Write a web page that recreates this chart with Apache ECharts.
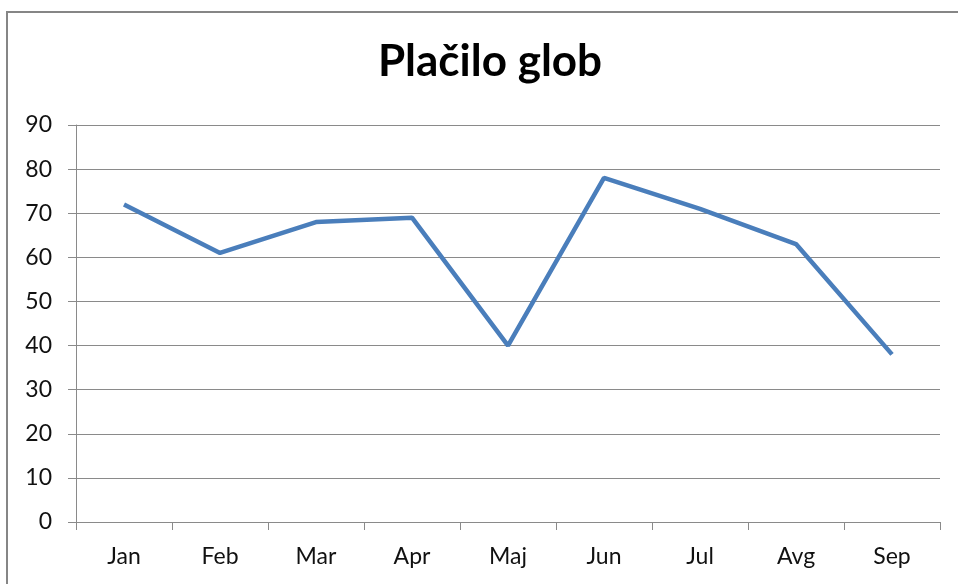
<!DOCTYPE html>
<html>
<head>
<meta charset="utf-8">
<script src="https://cdn.jsdelivr.net/npm/echarts@6/dist/echarts.min.js"></script>
<style>html,body{margin:0;padding:0;background:#fff}#c{width:958px;height:584px}</style>
</head>
<body>
<div id="c"></div>
<script>
var titleText = 'Plačilo glob';
var categories = ['Jan', 'Feb', 'Mar', 'Apr', 'Maj', 'Jun', 'Jul', 'Avg', 'Sep'];
var values = [72, 61, 68, 69, 40, 78, 71, 63, 38];
var yMin = 0, yMax = 90, yStep = 10;

var chart = echarts.init(document.getElementById('c'), null, {renderer: 'canvas'});
var gray = '#8a8a8a';
chart.setOption({
  animation: false,
  backgroundColor: '#fff',
  graphic: [{
    type: 'rect',
    shape: {x: 7, y: 12, width: 1200, height: 1200},
    style: {fill: 'none', stroke: '#868686', lineWidth: 2},
    silent: true
  }, {
    type: 'text',
    x: 490,
    y: 40,
    silent: true,
    style: {
      text: titleText,
      fontFamily: 'Lato', fontWeight: 'bold', fontSize: 44, fill: '#000',
      align: 'center', verticalAlign: 'top'
    }
  }],
  grid: {left: 76, right: 18, top: 125, bottom: 62, containLabel: false},
  xAxis: {
    type: 'category',
    data: categories,
    boundaryGap: true,
    axisLine: {lineStyle: {color: gray, width: 1}},
    axisTick: {show: true, length: 8, lineStyle: {color: gray}},
    axisLabel: {margin: 23, fontFamily: 'Lato', fontSize: 23, color: '#111'}
  },
  yAxis: {
    type: 'value',
    min: yMin, max: yMax, interval: yStep,
    axisLine: {show: true, lineStyle: {color: gray, width: 1}},
    axisTick: {show: true, length: 8, lineStyle: {color: gray}},
    axisLabel: {margin: 24, fontFamily: 'Lato', fontSize: 23, color: '#111'},
    splitLine: {show: true, lineStyle: {color: gray, width: 1}}
  },
  series: [{
    type: 'line',
    data: values,
    symbol: 'none',
    lineStyle: {color: '#4a7ebb', width: 4.5},
    itemStyle: {color: '#4a7ebb'}
  }]
});
</script>
</body>
</html>
